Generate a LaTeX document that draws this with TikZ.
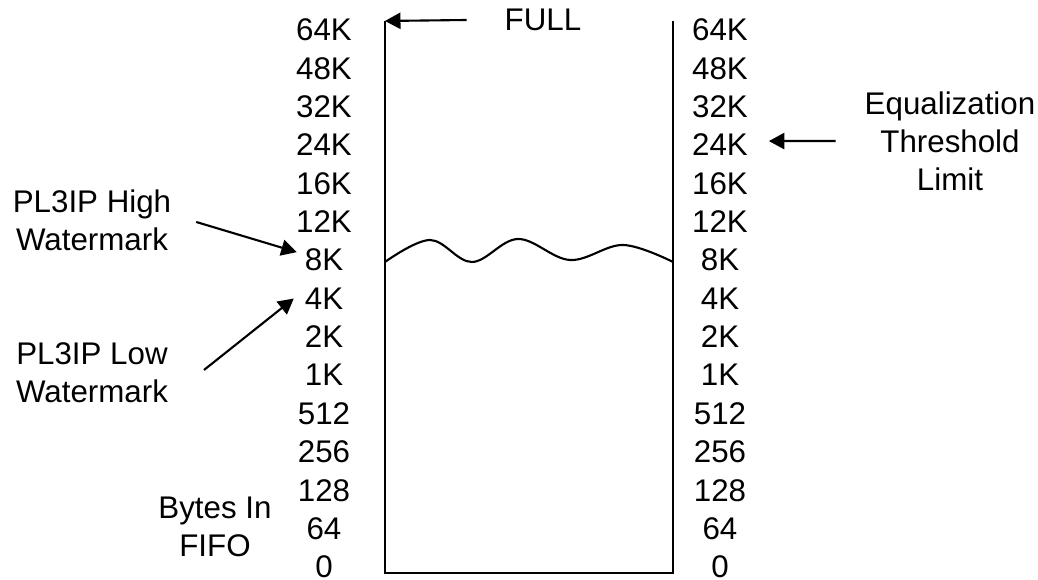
\documentclass[tikz,border=0pt]{standalone}
\usepackage{fontspec}
\setmainfont{Liberation Sans}
\usetikzlibrary{arrows.meta}

\begin{document}
\begin{tikzpicture}[
    x=0.01cm, y=-0.01cm,
    line width=0.6pt,
    every node/.style={
    font=\fontsize{8.9}{10.8}\selectfont, inner sep=0pt, align=center},
    arr/.style={-{Triangle[length=4.4pt,width=4.6pt]}}]
    \def\rowy#1{30+(#1-1)*38.36}
    \useasboundingbox (0,0) rectangle (1038,580);

    \foreach \lbl [count=\i] in {64K,48K,32K,24K,16K,12K,8K,4K,2K,1K,512,256,128,64,0} {
        \node (L\i) at (324,{\rowy{\i}}) {\lbl};
        \node (R\i) at (720,{\rowy{\i}}) {\lbl};
    }

    \coordinate (tl) at (385,21);
    \coordinate (tr) at (673,21);
    \coordinate (bl) at (385,573);
    \coordinate (br) at (673,573);
    \draw (tl) -- (bl) -- (br) -- (tr);
    \draw plot[smooth, tension=0.6] coordinates {(385,262) (430,240) (472,262) (518,239) (570,260) (623,245) (673,262)};

    \node (full) at (543,20) {FULL};
    \node (hi) at (92,220) {PL3IP High\\Watermark};
    \node (lo) at (92,373) {PL3IP Low\\Watermark};
    \node (eq) at (950,141) {Equalization\\Threshold\\Limit};
    \node (fifo) at (215,527) {Bytes In\\FIFO};

    \draw[arr] ([shift={(-37,0)}]full.west) -- (tl);
    \draw[arr] ([shift={(24,2)}]hi.east) -- ([shift={(-7,-8)}]L7.west);
    \draw[arr] ([shift={(35,-3)}]lo.east) -- ([shift={(-10,0)}]L8.west);
    \draw[arr] ([shift={(-28,0)}]eq.west) -- ([shift={(20,-4)}]R4.east);
\end{tikzpicture}
\end{document}
